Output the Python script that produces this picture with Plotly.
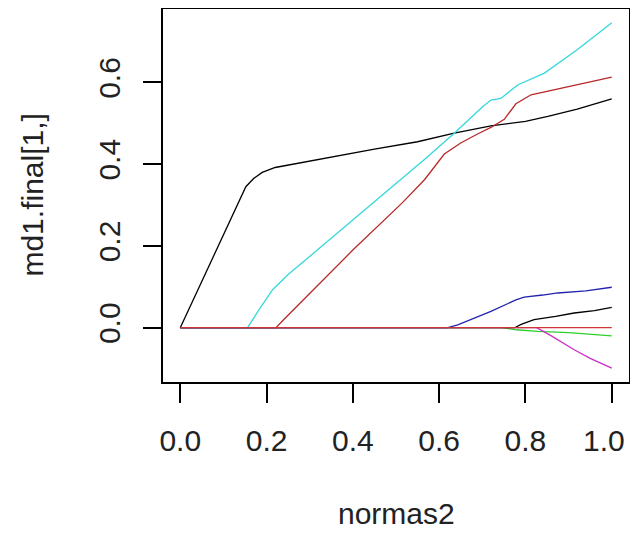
import plotly.graph_objects as go

# Data (coefficient paths vs normas2)
black1_x = [0, 0.152, 0.17, 0.19, 0.22, 0.26, 0.35, 0.45, 0.55, 0.635, 0.72, 0.80, 0.852, 0.92, 1.0]
black1_y = [0, 0.345, 0.365, 0.38, 0.392, 0.40, 0.418, 0.437, 0.455, 0.476, 0.494, 0.505, 0.517, 0.535, 0.56]

red1_x = [0, 0.222, 0.24, 0.295, 0.40, 0.515, 0.566, 0.612, 0.65, 0.689, 0.72, 0.751, 0.778, 0.813, 0.875, 0.94, 1.0]
red1_y = [0, 0, 0.02, 0.079, 0.19, 0.306, 0.362, 0.425, 0.452, 0.474, 0.49, 0.51, 0.548, 0.57, 0.584, 0.598, 0.613]

green_x = [0, 0.745, 0.78, 0.828, 0.90, 0.975, 1.0]
green_y = [0, 0, -0.005, -0.009, -0.012, -0.017, -0.02]

blue_x = [0, 0.62, 0.643, 0.68, 0.72, 0.778, 0.797, 0.84, 0.875, 0.94, 1.0]
blue_y = [0, 0, 0.007, 0.022, 0.04, 0.068, 0.075, 0.08, 0.085, 0.09, 0.099]

cyan_x = [0, 0.156, 0.18, 0.214, 0.25, 0.295, 0.35, 0.411, 0.457, 0.511, 0.57, 0.635, 0.70, 0.72, 0.743, 0.782, 0.844, 0.92, 1.0]
cyan_y = [0, 0, 0.04, 0.093, 0.13, 0.17, 0.22, 0.272, 0.313, 0.362, 0.415, 0.476, 0.54, 0.557, 0.561, 0.594, 0.623, 0.68, 0.746]

magenta_x = [0, 0.826, 0.86, 0.913, 0.95, 1.0]
magenta_y = [0, 0, -0.02, -0.054, -0.075, -0.099]

black2_x = [0, 0.775, 0.79, 0.82, 0.87, 0.913, 0.96, 1.0]
black2_y = [0, 0, 0.008, 0.02, 0.028, 0.036, 0.042, 0.05]

red2_x = [0, 1.0]
red2_y = [0, 0]

x_ticks = [0.0, 0.2, 0.4, 0.6, 0.8, 1.0]
x_tick_labels = ["0.0", "0.2", "0.4", "0.6", "0.8", "1.0"]
y_ticks = [0.0, 0.2, 0.4, 0.6]
x_label = "normas2"
y_label = "md1.final[1,]"

series = [
    (black1_x, black1_y, "#000000"),
    (red1_x, red1_y, "#B8282A"),
    (green_x, green_y, "#2ED02E"),
    (blue_x, blue_y, "#2424B0"),
    (cyan_x, cyan_y, "#35D8DA"),
    (magenta_x, magenta_y, "#CC2FC8"),
    (black2_x, black2_y, "#000000"),
    (red2_x, red2_y, "#D0343A"),
]

fig = go.Figure()
for xs, ys, col in series:
    fig.add_trace(go.Scatter(x=xs, y=ys, mode="lines",
                             line=dict(color=col, width=1.3),
                             showlegend=False, hoverinfo="skip"))

ymin = min(min(s[1]) for s in series)
ymax = max(max(s[1]) for s in series)
ext = 0.04 * (ymax - ymin)

font_family = "Liberation Sans, Arial, sans-serif"

# last x tick label is drawn as an annotation nudged inward so it is not clipped
axis_tick_text = x_tick_labels[:-1] + [""]

# the page body adds an 8px offset, so the figure is sized/margined to compensate
fig.update_layout(
    width=622, height=522, autosize=False,
    margin=dict(l=155, r=1, t=1, b=148, pad=0),
    paper_bgcolor="white", plot_bgcolor="white",
    font=dict(family=font_family, size=30, color="#222222"),
    xaxis=dict(range=[-0.04, 1.04], tickvals=x_ticks, ticktext=axis_tick_text,
               showgrid=False, zeroline=False, showline=True, mirror=True,
               linecolor="black", linewidth=1.5, ticks="outside", ticklen=19,
               tickwidth=1.5, tickcolor="black", automargin=False,
               tickfont=dict(size=30, color="#222222"), ticklabelstandoff=12),
    yaxis=dict(range=[ymin - ext, ymax + ext], tickvals=y_ticks, tickformat=".1f",
               showgrid=False, zeroline=False, showline=True, mirror=True,
               linecolor="black", linewidth=1.5, ticks="outside", ticklen=18,
               tickwidth=1.5, tickcolor="black", automargin=False, tickangle=-90,
               ticklabeloverflow="allow",
               tickfont=dict(size=30, color="#222222"), ticklabelstandoff=11),
    annotations=[
        dict(text=x_tick_labels[-1], xref="x", yref="paper", x=x_ticks[-1], y=-0.1555,
             xanchor="right", yanchor="middle", xshift=15, showarrow=False,
             font=dict(size=30, color="#222222", family=font_family)),
        dict(text=x_label, xref="paper", yref="paper", x=0.5, y=-0.352,
             xanchor="center", yanchor="middle", showarrow=False,
             font=dict(size=30, color="#222222", family=font_family)),
        dict(text=y_label, xref="paper", yref="paper", x=-0.281, y=0.5,
             xanchor="center", yanchor="middle", showarrow=False, textangle=-90,
             font=dict(size=30, color="#222222", family=font_family)),
    ],
)

fig.write_html("out.html")
